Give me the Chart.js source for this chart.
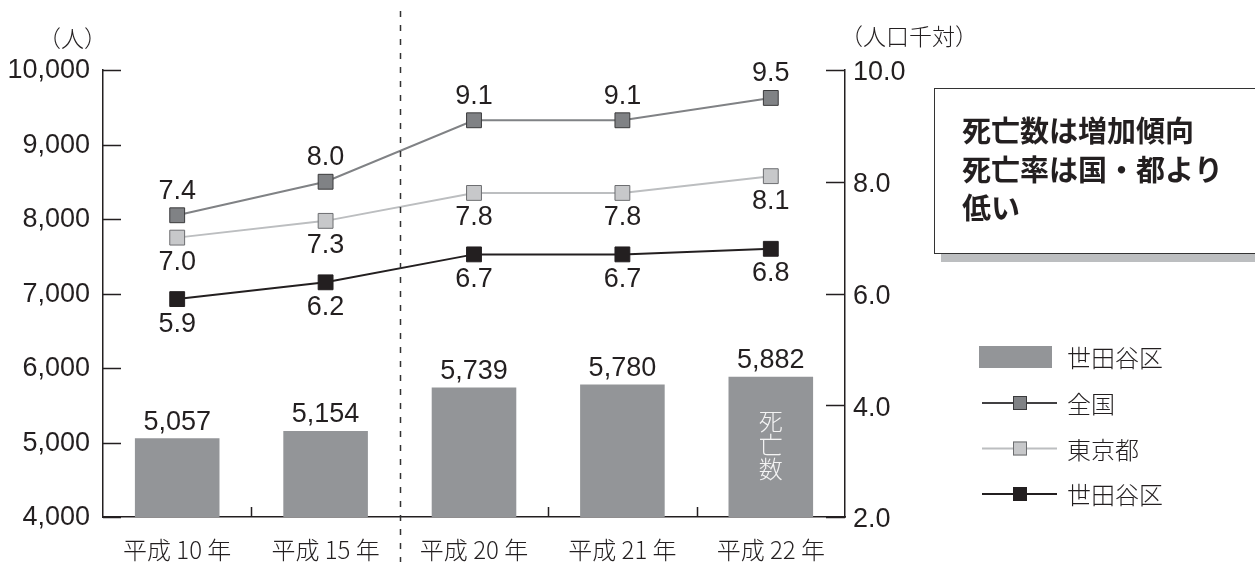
<!DOCTYPE html>
<html lang="ja">
<head>
<meta charset="utf-8">
<script src="https://cdn.jsdelivr.net/npm/chart.js@4"></script>
<style>
  html, body { margin: 0; padding: 0; background: #fff; }
  #wrap { width: 1255px; height: 562px; position: relative; }
</style>
</head>
<body>
<div id="wrap"><canvas id="deathChart" width="1255" height="562"></canvas></div>
<script>
// 年次
const years = ['平成 10 年', '平成 15 年', '平成 20 年', '平成 21 年', '平成 22 年'];
// 死亡数（世田谷区, 人）
const deaths = [5057, 5154, 5739, 5780, 5882];
// 死亡率（人口千対）
const rateZenkoku = [7.4, 8.0, 9.1, 9.1, 9.5];
const rateTokyo = [7.0, 7.3, 7.8, 7.8, 8.1];
const rateSetagaya = [5.9, 6.2, 6.7, 6.7, 6.8];
// 目盛
const leftTicks = [4000, 5000, 6000, 7000, 8000, 9000, 10000];
const rightTicks = [2.0, 4.0, 6.0, 8.0, 10.0];
// 注記
const noteLines = ['死亡数は増加傾向', '死亡率は国・都より', '低い'];

const NUM_FONT = '"Liberation Sans", Arial, sans-serif';
const JP_FONT = '"Noto Sans CJK JP", sans-serif';
const INK = '#231f20';

const BAR_COLOR = '#939598';
const lineStyles = [
  { label: '全国', data: rateZenkoku, line: '#808285', key: '#414042', fill: '#808285', edge: '#3a3a3c', pos: 'above' },
  { label: '東京都', data: rateTokyo, line: '#bcbec0', key: '#bcbec0', fill: '#c7c8ca', edge: '#6d6e71', pos: 'below' },
  { label: '世田谷区', data: rateSetagaya, line: INK, key: INK, fill: INK, edge: INK, pos: 'below' }
];

// 軸・ラベル・注記など本体以外の描画
const decorations = {
  id: 'decorations',
  afterDraw(chart) {
    const ctx = chart.ctx;
    const area = chart.chartArea;
    const x = chart.scales.x, y = chart.scales.y, y1 = chart.scales.y1;
    ctx.save();

    // 内向きの目盛線
    ctx.strokeStyle = INK;
    ctx.lineWidth = 1.5;
    ctx.beginPath();
    leftTicks.forEach(v => {
      const py = Math.round(y.getPixelForValue(v)) + 0.5;
      ctx.moveTo(area.left, py); ctx.lineTo(area.left + 18, py);
    });
    rightTicks.forEach(v => {
      const py = Math.round(y1.getPixelForValue(v)) + 0.5;
      ctx.moveTo(area.right - 19, py); ctx.lineTo(area.right, py);
    });
    // 区切りの目盛（下辺）
    for (let i = 0; i < years.length - 1; i++) {
      if (i === 1) continue;
      const px = Math.round((x.getPixelForTick(i) + x.getPixelForTick(i + 1)) / 2) + 0.5;
      ctx.moveTo(px, area.bottom); ctx.lineTo(px, area.bottom - 10);
    }
    ctx.stroke();

    // 平成15年と20年の間の破線
    const dx = Math.round((x.getPixelForTick(1) + x.getPixelForTick(2)) / 2) + 0.5;
    ctx.setLineDash([6, 8]);
    ctx.lineWidth = 1.5;
    ctx.strokeStyle = '#333';
    ctx.beginPath();
    ctx.moveTo(dx, 11); ctx.lineTo(dx, 562);
    ctx.stroke();
    ctx.setLineDash([]);

    // 単位
    ctx.fillStyle = INK;
    ctx.font = '300 23px ' + JP_FONT;
    ctx.textBaseline = 'middle';
    ctx.textAlign = 'left';
    ctx.fillText('（人）', 38, 38);
    ctx.fillText('（人口千対）', 840, 36);

    // 注記ボックス
    ctx.fillStyle = '#bcbec0';
    ctx.fillRect(941, 96, 330, 166);
    ctx.fillStyle = '#fff';
    ctx.fillRect(934, 88, 330, 166);
    ctx.strokeStyle = '#333';
    ctx.lineWidth = 1;
    ctx.strokeRect(934.5, 88.5, 330, 165);
    ctx.fillStyle = INK;
    ctx.font = 'bold 29px ' + JP_FONT;
    noteLines.forEach((t, i) => ctx.fillText(t, 962, 131 + i * 38.5));

    // 凡例
    ctx.font = '300 24px ' + JP_FONT;
    ctx.fillStyle = BAR_COLOR;
    ctx.fillRect(979, 346, 73, 22);
    ctx.fillStyle = INK;
    ctx.fillText('世田谷区', 1067, 358);
    lineStyles.forEach((s, i) => {
      const ly = 403 + i * 45.5;
      ctx.strokeStyle = s.key;
      ctx.lineWidth = 2;
      ctx.beginPath();
      ctx.moveTo(982, ly); ctx.lineTo(1057, ly);
      ctx.stroke();
      ctx.fillStyle = s.fill;
      ctx.fillRect(1013, ly - 7, 14, 14);
      ctx.strokeStyle = s.edge;
      ctx.lineWidth = 1;
      ctx.strokeRect(1013.5, ly - 6.5, 13, 13);
      ctx.fillStyle = INK;
      ctx.fillText(s.label, 1067, ly + 1);
    });

    ctx.restore();
  },
  afterDatasetsDraw(chart) {
    const ctx = chart.ctx;
    ctx.save();
    ctx.textAlign = 'center';
    ctx.textBaseline = 'middle';
    ctx.fillStyle = INK;
    ctx.font = '27px ' + NUM_FONT;

    // 棒の数値
    const barMeta = chart.getDatasetMeta(0);
    barMeta.data.forEach((bar, i) => {
      ctx.fillText(deaths[i].toLocaleString('en-US'), bar.x, bar.y - 16);
    });

    // 折れ線の数値
    lineStyles.forEach((s, k) => {
      const meta = chart.getDatasetMeta(k + 1);
      meta.data.forEach((pt, i) => {
        const off = s.pos === 'above' ? -24 : 25;
        ctx.fillText(s.data[i].toFixed(1), pt.x, pt.y + off);
      });
    });

    // 最後の棒の中の縦書き
    const last = barMeta.data[barMeta.data.length - 1];
    ctx.fillStyle = '#f4f4f4';
    ctx.font = '300 24px ' + JP_FONT;
    ['死', '亡', '数'].forEach((c, i) => ctx.fillText(c, last.x, 421 + i * 24));
    ctx.restore();
  }
};

const ctx = document.getElementById('deathChart').getContext('2d');
new Chart(ctx, {
  data: {
    labels: years,
    datasets: [
      {
        type: 'bar',
        label: '世田谷区',
        data: deaths,
        yAxisID: 'y',
        backgroundColor: BAR_COLOR,
        borderWidth: 0,
        categoryPercentage: 1,
        barPercentage: 0.57,
        order: 2
      },
      ...lineStyles.map(s => ({
        type: 'line',
        label: s.label,
        data: s.data,
        yAxisID: 'y1',
        borderColor: s.line,
        borderWidth: 2,
        pointStyle: 'rect',
        pointRadius: 10.5,
        pointBackgroundColor: s.fill,
        pointBorderColor: s.edge,
        pointBorderWidth: 1,
        tension: 0,
        order: 1
      }))
    ]
  },
  options: {
    responsive: false,
    animation: false,
    layout: { padding: { top: 70, right: 330, left: 0, bottom: 0 } },
    plugins: {
      legend: { display: false },
      tooltip: { enabled: false }
    },
    scales: {
      x: {
        offset: true,
        grid: { display: false, drawTicks: false },
        border: { display: true, color: INK, width: 1.5 },
        ticks: { color: INK, font: { family: JP_FONT, size: 24, weight: '300' }, padding: 18, maxRotation: 0 },
        afterFit(scale) { scale.height = 45; }
      },
      y: {
        position: 'left',
        min: 4000,
        max: 10000,
        grid: { display: false, drawTicks: false },
        border: { display: true, color: INK, width: 1.5 },
        ticks: {
          stepSize: 1000,
          padding: 13,
          labelOffset: 1,
          color: INK,
          font: { family: NUM_FONT, size: 27 },
          callback: v => v.toLocaleString('en-US')
        },
        afterFit(scale) { scale.width = 103; }
      },
      y1: {
        position: 'right',
        min: 2,
        max: 10,
        grid: { display: false, drawTicks: false },
        border: { display: true, color: INK, width: 1.5 },
        ticks: {
          stepSize: 2,
          padding: 8,
          labelOffset: 3,
          color: INK,
          font: { family: NUM_FONT, size: 27 },
          callback: v => v.toFixed(1)
        },
        afterFit(scale) { scale.width = 80; }
      }
    }
  },
  plugins: [decorations]
});
</script>
</body>
</html>
